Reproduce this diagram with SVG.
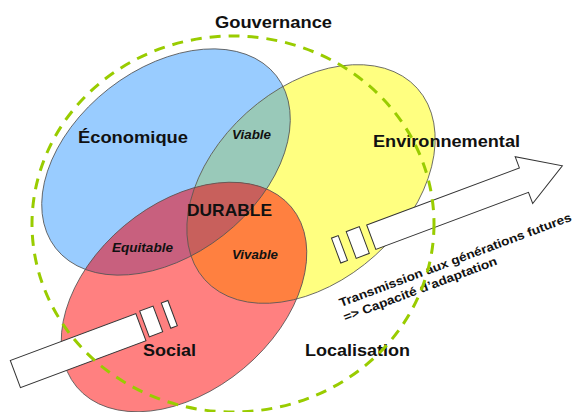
<svg xmlns="http://www.w3.org/2000/svg" width="575" height="412" viewBox="0 0 575 412">
<style>
.lbl{font-family:"Liberation Sans",Arial,sans-serif;font-weight:bold;fill:#111}
.big{font-size:16px}
.it{font-size:12px;font-style:italic}
.outline{fill:none;stroke:#555;stroke-width:0.8}
.arr{fill:#fff;stroke:#333;stroke-width:1}
.gov{fill:none;stroke:#99cc00;stroke-width:3;stroke-dasharray:11 8}
</style>
<defs>
<clipPath id="cB"><ellipse cx="166" cy="162" rx="140" ry="93" transform="rotate(-38 166 162)"/></clipPath>
<clipPath id="cY"><ellipse cx="311" cy="184" rx="143" ry="96" transform="rotate(-42 311 184)"/></clipPath>
</defs>
<rect width="575" height="412" fill="#fff"/>
<g id="economique">
<ellipse cx="166" cy="162" rx="140" ry="93" transform="rotate(-38 166 162)" fill="#99ccff"/>
</g>
<g id="environnemental">
<ellipse cx="311" cy="184" rx="143" ry="96" transform="rotate(-42 311 184)" fill="#ffff80"/>
</g>
<g id="social">
<ellipse cx="184" cy="297" rx="140" ry="93" transform="rotate(-40 184 297)" fill="#ff8080"/>
</g>
<g id="viable" clip-path="url(#cB)">
<ellipse cx="311" cy="184" rx="143" ry="96" transform="rotate(-42 311 184)" fill="#99c9b9"/>
</g>
<g id="equitable" clip-path="url(#cB)">
<ellipse cx="184" cy="297" rx="140" ry="93" transform="rotate(-40 184 297)" fill="#c8607e"/>
</g>
<g id="vivable" clip-path="url(#cY)">
<ellipse cx="184" cy="297" rx="140" ry="93" transform="rotate(-40 184 297)" fill="#ff8040"/>
</g>
<g id="durable" clip-path="url(#cB)">
<g clip-path="url(#cY)">
<ellipse cx="184" cy="297" rx="140" ry="93" transform="rotate(-40 184 297)" fill="#c8605c"/>
</g>
</g>
<g id="outlines">
<ellipse class="outline" cx="166" cy="162" rx="140" ry="93" transform="rotate(-38 166 162)"/>
<ellipse class="outline" cx="311" cy="184" rx="143" ry="96" transform="rotate(-42 311 184)"/>
<ellipse class="outline" cx="184" cy="297" rx="140" ry="93" transform="rotate(-40 184 297)"/>
</g>
<g id="labels">
<text class="lbl big" x="78" y="143" textLength="110" lengthAdjust="spacingAndGlyphs">Économique</text>
<text class="lbl big" x="373" y="147" textLength="147" lengthAdjust="spacingAndGlyphs">Environnemental</text>
<text class="lbl big" x="143" y="356" textLength="53" lengthAdjust="spacingAndGlyphs">Social</text>
<text class="lbl big" x="305" y="356" textLength="105" lengthAdjust="spacingAndGlyphs">Localisation</text>
<text class="lbl big" x="215" y="28" textLength="117" lengthAdjust="spacingAndGlyphs">Gouvernance</text>
<text class="lbl" x="187" y="216" font-size="17" textLength="85" lengthAdjust="spacingAndGlyphs">DURABLE</text>
<text class="lbl it" x="232" y="139" textLength="39" lengthAdjust="spacingAndGlyphs">Viable</text>
<text class="lbl it" x="112" y="252" textLength="61" lengthAdjust="spacingAndGlyphs">Equitable</text>
<text class="lbl it" x="232" y="259" textLength="46" lengthAdjust="spacingAndGlyphs">Vivable</text>
<g transform="translate(341 307) rotate(-20.5)">
<text class="lbl" x="0" y="0" font-size="12" textLength="247" lengthAdjust="spacingAndGlyphs">Transmission aux générations  futures</text>
<text class="lbl" x="-1" y="15" font-size="12" textLength="163" lengthAdjust="spacingAndGlyphs">=&gt; Capacité d’adaptation</text>
</g>
</g>
<g id="connectors">
<g id="arrow-in" transform="translate(10.3 360.5) rotate(-20.5)">
<rect class="arr" x="0" y="0" width="134" height="29"/>
<rect class="arr" x="138.5" y="-1" width="14.3" height="27.5"/>
<rect class="arr" x="161.6" y="-1" width="7" height="27"/>
</g>
<g id="arrow-out" transform="translate(366.7 225) rotate(-20.5)">
<rect class="arr" x="-37.6" y="0" width="7.2" height="26.5"/>
<rect class="arr" x="-21.5" y="-1" width="14" height="28.5"/>
<path class="arr" d="M0 0 H163 V-12 L204 13 L163 38 V26 H0 Z"/>
</g>
</g>
<g id="gouvernance">
<ellipse class="gov" cx="233" cy="224" rx="201" ry="188"/>
</g>
</svg>
